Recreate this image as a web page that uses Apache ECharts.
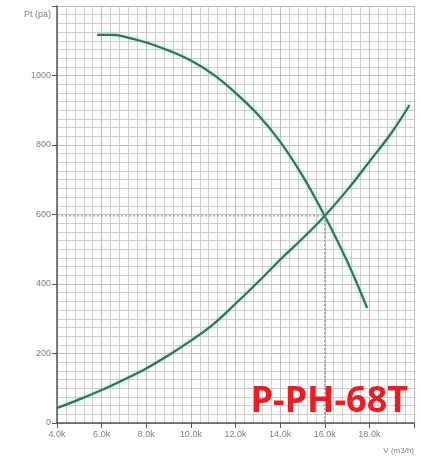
<!DOCTYPE html>
<html>
<head>
<meta charset="utf-8">
<script src="https://cdn.jsdelivr.net/npm/echarts@6/dist/echarts.min.js"></script>
<style>html,body{margin:0;padding:0;background:#fff}#c{width:421px;height:465px}</style>
</head>
<body>
<div id="c"></div>
<script>
// Fan curve (airflow m3/h, pressure Pa)
const fanFlow     = [5800, 6500, 7000, 8000, 9000, 10000, 11000, 12000, 13000, 14000, 15000, 16000, 17000, 17900];
const fanPressure = [1117, 1117, 1112, 1095, 1072, 1043, 1003, 950, 888, 810, 712, 596, 466, 331];
// System curve
const sysFlow     = [4000, 5000, 6000, 7000, 8000, 9000, 10000, 11000, 12000, 13000, 14000, 15000, 16000, 17000, 18000, 19000, 19800];
const sysPressure = [43, 68, 95, 125, 157, 195, 237, 284, 343, 405, 470, 531, 596, 670, 752, 836, 915];
// Operating point
const opPoint = [16000, 596];
const yTicks = [0, 200, 400, 600, 800, 1000];
const xTickLabels = ['4.0k','6.0k','8.0k','10.0k','12.0k','14.0k','16.0k','18.0k'];
const modelName = 'P-PH-68T';

const zip = (a, b) => a.map((v, i) => [v, b[i]]);
const curveStyle = {color: '#3a6e5e', width: 2.2, shadowColor: 'rgba(120,225,180,0.8)', shadowBlur: 5};

const chart = echarts.init(document.getElementById('c'));
chart.setOption({
  animation: false,
  backgroundColor: '#fff',
  grid: {left: 57, right: 7, top: 6, bottom: 42},
  xAxis: {
    type: 'value', min: 4000, max: 20000, interval: 2000,
    axisLine: {lineStyle: {color: '#555', width: 1.5}},
    axisTick: {show: true, length: 5, lineStyle: {color: '#555'}},
    axisLabel: {color: '#808080', fontSize: 9, margin: 7,
      formatter: v => { const i = (v - 4000) / 2000; return xTickLabels[i] !== undefined ? xTickLabels[i] : ''; }},
    splitLine: {show: true, lineStyle: {color: '#bdbdbd', width: 1}},
    minorTick: {show: false, splitNumber: 5},
    minorSplitLine: {show: true, lineStyle: {color: '#cfcfcf', width: 1}},
    name: 'V (m3/h)', nameLocation: 'end', nameGap: 0,
    nameTextStyle: {color: '#808080', fontSize: 8, verticalAlign: 'top', align: 'right', padding: [24, 0, 0, 0]}
  },
  yAxis: {
    type: 'value', min: 0, max: 1200, interval: 200,
    axisLine: {show: true, lineStyle: {color: '#555', width: 1.5}},
    axisTick: {show: true, length: 5, lineStyle: {color: '#555'}},
    axisLabel: {color: '#808080', fontSize: 9, margin: 6,
      formatter: v => yTicks.indexOf(v) >= 0 ? String(v) : ''},
    splitLine: {show: true, lineStyle: {color: '#bdbdbd', width: 1}},
    minorTick: {show: false, splitNumber: 8},
    minorSplitLine: {show: true, lineStyle: {color: '#cfcfcf', width: 1}},
    name: 'Pt (pa)', nameLocation: 'end', nameGap: 0,
    nameTextStyle: {color: '#808080', fontSize: 9, align: 'right', verticalAlign: 'top', padding: [4, 6, 0, 0]}
  },
  series: [
    {type: 'line', data: [[4000, opPoint[1]], opPoint, [opPoint[0], 0]], symbol: 'none', silent: true,
      lineStyle: {color: '#888', width: 1, type: [2, 2]}},
    {type: 'line', data: zip(fanFlow, fanPressure), smooth: 0.4, symbol: 'none', lineStyle: curveStyle},
    {type: 'line', data: zip(sysFlow, sysPressure), smooth: 0.4, symbol: 'none', lineStyle: curveStyle}
  ],
  graphic: [{
    type: 'text', right: 13, top: 384, z: 100,
    style: {text: modelName, fill: '#ec1c24', lineWidth: 0, stroke: null,
      font: 'bold 36px "Noto Sans", "Liberation Sans", sans-serif'}
  }]
});
</script>
</body>
</html>
